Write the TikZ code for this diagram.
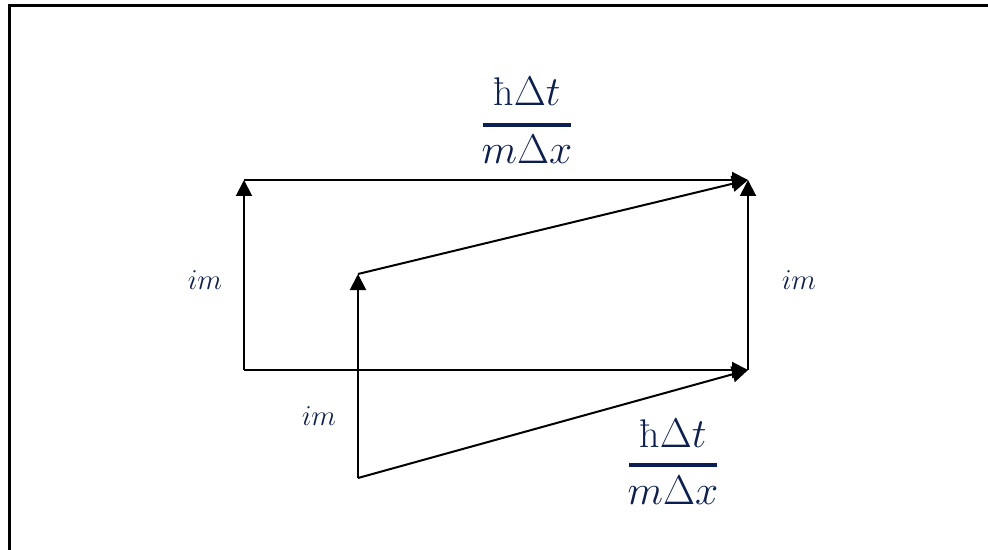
\documentclass[tikz,border=0pt]{standalone}
\usepackage{fontspec}
\usetikzlibrary{arrows.meta}
\definecolor{eqblue}{HTML}{0B1F55}

\begin{document}
\begin{tikzpicture}[x=0.5pt,y=-0.5pt,
  vec/.style={line width=1pt,-{Triangle[length=8pt,width=8pt]}},
  coef/.style={text=eqblue,font=\fontsize{15}{18}\selectfont},
  ratio/.style={text=eqblue,font=\fontsize{20}{24}\selectfont,anchor=base,inner sep=0pt},
  bar/.style={eqblue,line width=2pt}]
\useasboundingbox (0,0) rectangle (988,550);
\clip (0,0) rectangle (988,550);
\draw[line width=1.5pt] (9,6) rectangle (1010,570);
% corners of the two paths
\coordinate (bl) at (244,370); \coordinate (tl) at (244,180);
\coordinate (tr) at (748,180); \coordinate (br) at (748,370);
\coordinate (pb) at (358,478); \coordinate (pt) at (358,274);
\draw[vec] (bl)--(tl); \draw[vec] (tl)--(tr);
\draw[vec] (bl)--(br); \draw[vec] (br)--(tr);
\draw[vec] (pb)--(pt); \draw[vec] (pt)--(tr); \draw[vec] (pb)--(br);
\node[coef] (imleft) at (205,280) {$im$};
\node[coef] (imright) at (799,280) {$im$};
\node[coef] (imlow) at (319,416) {$im$};
% the two fractions
\node[ratio] (numtop) at (527,106) {\mbox{ħ}$\Delta t$};
\node[ratio] (dentop) at (527,164) {$m\Delta x$};
\draw[bar] (483,125)--(571,125);
\node[ratio] (numlow) at (673,447) {\mbox{ħ}$\Delta t$};
\node[ratio] (denlow) at (673,504) {$m\Delta x$};
\draw[bar] (629,465)--(717,465);
\end{tikzpicture}
\end{document}
